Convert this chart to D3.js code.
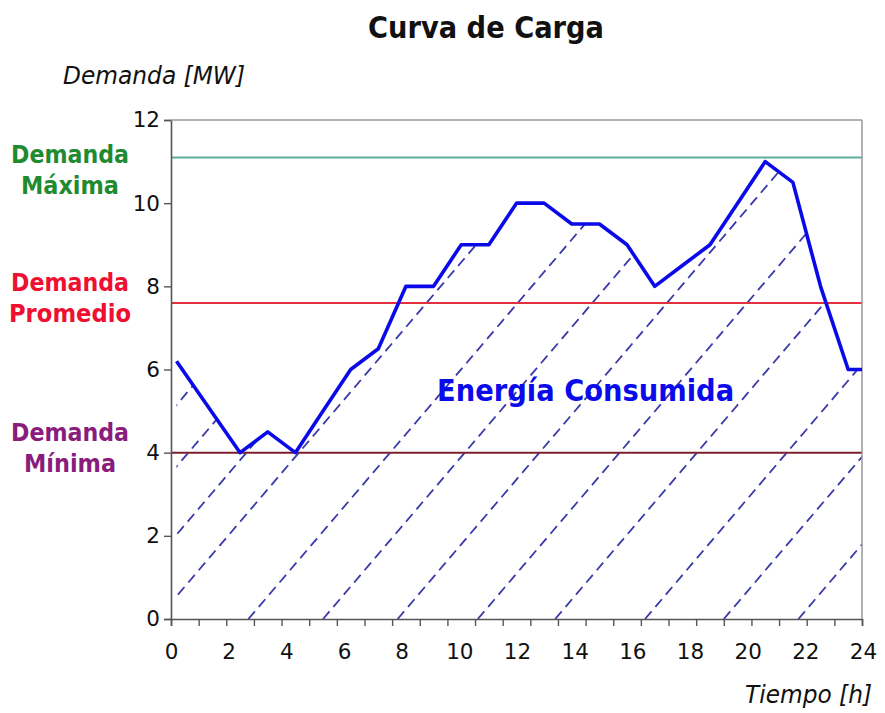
<!DOCTYPE html>
<html>
<head>
<meta charset="utf-8">
<script src="https://cdn.jsdelivr.net/npm/d3@7"></script>
<style>
  body { margin: 0; background: #fff; }
  svg { display: block; font-family: "DejaVu Sans", Verdana, sans-serif; }
</style>
</head>
<body>
<div id="chart"></div>
<script>
// Curva de carga - demanda horaria
const hours  = [0.2, 2.5, 3.5, 4.5, 5.5, 6.5, 7.5, 8.5, 9.5, 10.5, 11.5, 12.5, 13.5,
                14.5, 15.5, 16.5, 17.5, 18.5, 19.5, 20.5, 21.5, 22.5, 23.5, 24.5, 25.0];
const demand = [6.2, 4.0, 4.5, 4.0, 5.0, 6.0, 6.5, 8.0, 8.0, 9.0, 9.0, 10.0, 10.0,
                9.5, 9.5, 9.0, 8.0, 8.5, 9.0, 10.0, 11.0, 10.5, 8.0, 6.0, 6.0];

const xTickLabels = ["0", "2", "4", "6", "8", "10", "12", "14", "16", "18", "20", "22", "24"];
const yTicks = [0, 2, 4, 6, 8, 10, 12];

const refNames  = ["Máxima", "Promedio", "Mínima"];
const refValues = [11.1, 7.6, 4.0];

// rayado de la energia: hora donde cada linea corta demanda 0
const hatchStarts = [-6.4, -4.5, -2.4, -0.5, 2.8, 5.5, 8.2, 11.1, 13.9, 17.15, 20.0, 22.7];
const hatchSlope = 0.78; // MW por hora

const width = 885, height = 713;

const x = d3.scaleLinear().domain([0, 25]).range([171, 862]);
const y = d3.scaleLinear().domain([0, 12]).range([619, 120]);
const xLab = d3.scalePoint().domain(xTickLabels).range([171, 863]);

const lineColor = d3.scaleOrdinal()
    .domain(refNames)
    .range(["#5fae9c", "#e2303f", "#7e1f2c"]);
const labelColor = d3.scaleOrdinal()
    .domain(refNames)
    .range(["#1f8a30", "#ee1030", "#8a1c7c"]);

const svg = d3.select("#chart")
    .append("svg")
    .attr("width", width)
    .attr("height", height);

const points = hours.map((h, i) => ({h: h, v: demand[i]}));

// clip: area bajo la curva
const area = d3.area()
    .x(d => x(d.h))
    .y0(y(0))
    .y1(d => y(d.v));

svg.append("clipPath")
    .attr("id", "under")
    .append("path")
    .attr("d", area(points));

svg.append("g")
    .attr("clip-path", "url(#under)")
    .selectAll("line")
    .data(hatchStarts)
    .enter()
    .append("line")
    .attr("x1", d => x(d))
    .attr("y1", y(0))
    .attr("x2", d => x(d + 12 / hatchSlope))
    .attr("y2", y(12))
    .style("stroke", "#3a3aa8")
    .style("stroke-width", 1.8)
    .style("stroke-dasharray", "10,6");

// lineas de referencia
svg.selectAll(".ref")
    .data(refNames)
    .enter()
    .append("line")
    .attr("class", "ref")
    .attr("x1", x(0))
    .attr("x2", x(25))
    .attr("y1", (d, i) => y(refValues[i]))
    .attr("y2", (d, i) => y(refValues[i]))
    .style("stroke", d => lineColor(d))
    .style("stroke-width", 2);

// ejes
const yAxis = svg.append("g")
    .attr("transform", `translate(${x(0)},0)`)
    .call(d3.axisLeft(y).tickValues(yTicks).tickSize(7).tickPadding(4));

const xAxis = svg.append("g")
    .attr("transform", `translate(0,${y(0)})`)
    .call(d3.axisBottom(x).tickValues(d3.range(0, 26)).tickSize(7).tickFormat(""));

const xLabels = svg.append("g")
    .attr("transform", `translate(0,${y(0)})`)
    .call(d3.axisBottom(xLab).tickSize(0).tickPadding(25));
xLabels.select(".domain").remove();

[yAxis, xAxis].forEach(g => {
    g.select(".domain").style("stroke", "#555").style("stroke-width", 1.6);
    g.selectAll(".tick line").style("stroke", "#555").style("stroke-width", 1.4);
});
[yAxis, xLabels].forEach(g => {
    g.selectAll("text")
        .style("font-family", "'DejaVu Sans', sans-serif")
        .style("font-size", "21.5px")
        .style("fill", "#111");
});

// marco superior y derecho
svg.append("line")
    .attr("x1", x(0)).attr("x2", x(25))
    .attr("y1", y(12)).attr("y2", y(12))
    .style("stroke", "#999").style("stroke-width", 1.5);
svg.append("line")
    .attr("x1", x(25)).attr("x2", x(25))
    .attr("y1", y(12)).attr("y2", y(0))
    .style("stroke", "#999").style("stroke-width", 1.5);

// curva
const line = d3.line()
    .x(d => x(d.h))
    .y(d => y(d.v));

svg.append("path")
    .attr("d", line(points))
    .style("fill", "none")
    .style("stroke", "#0a0ae8")
    .style("stroke-width", 3.6)
    .style("stroke-linejoin", "round");

// textos
svg.append("text")
    .attr("x", 486)
    .attr("y", 38)
    .attr("text-anchor", "middle")
    .attr("textLength", 236)
    .attr("lengthAdjust", "spacingAndGlyphs")
    .style("font-size", "31px")
    .style("font-weight", "bold")
    .style("fill", "#111")
    .text("Curva de Carga");

svg.append("text")
    .attr("x", 63)
    .attr("y", 84)
    .attr("textLength", 182)
    .attr("lengthAdjust", "spacingAndGlyphs")
    .style("font-size", "25px")
    .style("font-style", "italic")
    .style("fill", "#111")
    .text("Demanda [MW]");

svg.append("text")
    .attr("x", 872)
    .attr("y", 703)
    .attr("text-anchor", "end")
    .attr("textLength", 127)
    .attr("lengthAdjust", "spacingAndGlyphs")
    .style("font-size", "25px")
    .style("font-style", "italic")
    .style("fill", "#111")
    .text("Tiempo [h]");

svg.append("text")
    .attr("x", x(15))
    .attr("y", y(5.25))
    .attr("text-anchor", "middle")
    .attr("textLength", 297)
    .attr("lengthAdjust", "spacingAndGlyphs")
    .style("font-size", "30px")
    .style("font-weight", "bold")
    .style("fill", "#0a0aea")
    .text("Energía Consumida");

// etiquetas de demanda a la izquierda (dos lineas, cada una su propio texto)
const labelShift = {"Máxima": 6, "Promedio": -12, "Mínima": -12};
const labelWidth = {"Máxima": 98, "Promedio": 122, "Mínima": 92};
refNames.forEach((name, i) => {
    const y0 = y(refValues[i]) + labelShift[name];
    [["Demanda", 118, y0], [name, labelWidth[name], y0 + 31]].forEach(([txt, w, ty]) => {
        svg.append("text")
            .attr("x", 70)
            .attr("y", ty)
            .attr("text-anchor", "middle")
            .attr("textLength", w)
            .attr("lengthAdjust", "spacingAndGlyphs")
            .style("font-size", "25px")
            .style("font-weight", "bold")
            .style("fill", labelColor(name))
            .text(txt);
    });
});
</script>
</body>
</html>
